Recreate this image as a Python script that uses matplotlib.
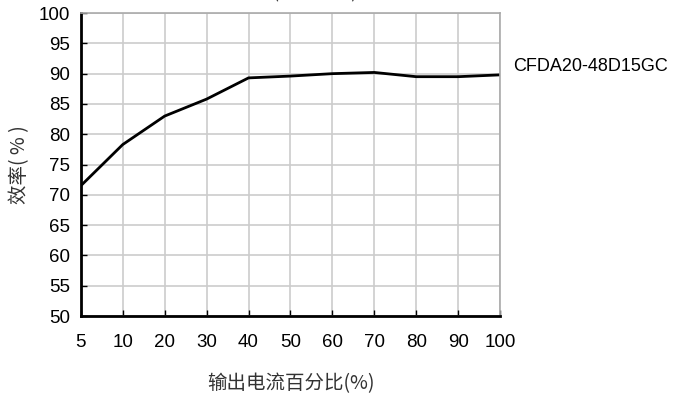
import numpy as np
import matplotlib
matplotlib.use('Agg')
import matplotlib.pyplot as plt

plt.rcParams['font.family'] = ['Liberation Sans', 'Noto Sans CJK SC', 'DejaVu Sans']

load_labels = ['5', '10', '20', '30', '40', '50', '60', '70', '80', '90', '100']
efficiency = [71.5, 78.3, 83.0, 85.8, 89.3, 89.6, 90.0, 90.2, 89.5, 89.5, 89.8]
model_name = 'CFDA20-48D15GC'

fig = plt.figure(figsize=(6.85, 3.96), dpi=100, facecolor='white')
ax = fig.add_axes([0.118, 0.202, 0.612, 0.765])

pos = np.arange(len(load_labels))
ax.plot(pos, efficiency, color='black', linewidth=2.0, solid_joinstyle='round')

ax.set_xlim(0, len(load_labels) - 1)
ax.set_ylim(50, 100)
ax.set_xticks(pos)
ax.set_xticklabels(load_labels)
ax.set_yticks(np.arange(50, 101, 5))
ax.tick_params(direction='in', length=4, width=1, colors='black', labelsize=13.5)
ax.tick_params(axis='y', pad=8)
ax.tick_params(axis='x', pad=13)
ax.grid(color='#cccccc', linewidth=1.2)
ax.set_axisbelow(True)

for side in ['top', 'right']:
    ax.spines[side].set_color('#aaaaaa')
    ax.spines[side].set_linewidth(1.2)
for side in ['left', 'bottom']:
    ax.spines[side].set_color('black')
    ax.spines[side].set_linewidth(2)

# 纵轴标题带空格, 与原图间距一致
ax.set_ylabel('效率( % )', fontsize=14, family=['Noto Sans CJK SC', 'DejaVu Sans'], labelpad=6, color='#333333')
ax.set_xlabel('输出电流百分比(%)', fontsize=14, family=['Noto Sans CJK SC', 'DejaVu Sans'], labelpad=16, color='#333333')

fig.text(0.749, 0.833, model_name, fontsize=13, va='center', ha='left')
fig.text(0.405, 1.018, '效率曲线 (额定输入)', fontsize=13, ha='center', va='center',
         family=['Noto Sans CJK SC', 'DejaVu Sans'], color='#333333')

fig.savefig('out.png', dpi=100)
